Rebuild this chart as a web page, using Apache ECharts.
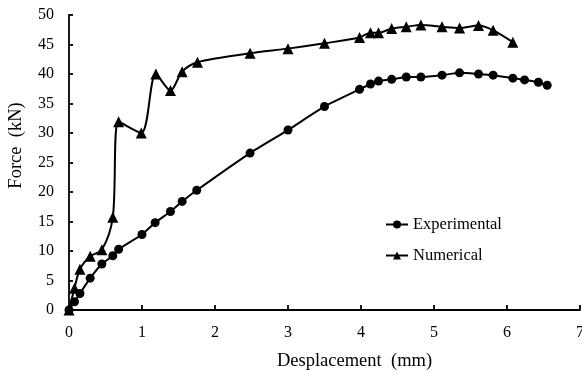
<!DOCTYPE html>
<html>
<head>
<meta charset="utf-8">
<script src="https://cdn.jsdelivr.net/npm/echarts@6/dist/echarts.min.js"></script>
<style>
    html, body { margin: 0; padding: 0; background: #fff; }
    #chart { width: 582px; height: 372px; }
</style>
</head>
<body>
<div id="chart"></div>
<script>
// displacement (mm) / force (kN)
const expX = [0, 0.075, 0.15, 0.29, 0.45, 0.6, 0.68, 1.0, 1.18, 1.39, 1.55, 1.75, 2.48, 3.0, 3.5, 3.98, 4.13, 4.24, 4.42, 4.62, 4.82, 5.11, 5.35, 5.61, 5.81, 6.08, 6.24, 6.43, 6.55];
const expY = [0, 1.4, 2.8, 5.4, 7.8, 9.2, 10.3, 12.8, 14.8, 16.7, 18.4, 20.3, 26.6, 30.5, 34.5, 37.4, 38.3, 38.8, 39.1, 39.5, 39.5, 39.8, 40.2, 40.0, 39.8, 39.3, 39.0, 38.6, 38.1];

const numX = [0, 0.075, 0.15, 0.29, 0.45, 0.6, 0.68, 0.99, 1.19, 1.39, 1.55, 1.76, 2.48, 3.0, 3.5, 3.98, 4.13, 4.24, 4.42, 4.62, 4.82, 5.11, 5.35, 5.61, 5.81, 6.08];
const numY = [0, 3.7, 6.9, 9.1, 10.2, 15.7, 31.9, 30.0, 40.0, 37.2, 40.4, 42.0, 43.5, 44.3, 45.2, 46.2, 47.0, 47.0, 47.7, 48.0, 48.3, 48.0, 47.8, 48.2, 47.4, 45.4];

const xTicks = [0, 1, 2, 3, 4, 5, 6, 7];
const yTicks = [0, 5, 10, 15, 20, 25, 30, 35, 40, 45, 50];

function pairs(xs, ys) {
    let out = [];
    for (let i = 0; i < xs.length; i++) {
        out.push([xs[i], ys[i]]);
    }
    return out;
}

const font = 'Liberation Serif';
var chart = echarts.init(document.getElementById('chart'));
chart.setOption({
    animation: false,
    textStyle: { fontFamily: font, color: '#000' },
    grid: {
        left: 69,
        right: 2,
        top: 15,
        bottom: 62,
        containLabel: false,
        outerBoundsMode: 'none'
    },
    legend: {
        orient: 'vertical',
        left: 380,
        top: 211,
        itemWidth: 22,
        itemHeight: 10,
        itemGap: 14,
        textStyle: { fontFamily: font, fontSize: 16.5, color: '#000' },
        data: ['Experimental', 'Numerical']
    },
    xAxis: {
        type: 'value',
        min: xTicks[0],
        max: xTicks[xTicks.length - 1],
        interval: 1,
        name: 'Desplacement  (mm)',
        nameLocation: 'middle',
        nameGap: 42,
        nameTextStyle: { fontFamily: font, fontSize: 18.5, color: '#000', padding: [0, 0, 0, 60] },
        axisLine: { lineStyle: { color: '#000', width: 1.8 } },
        axisTick: { inside: true, length: 5, lineStyle: { color: '#000', width: 1.8 } },
        axisLabel: { fontFamily: font, fontSize: 16, color: '#000', margin: 15 },
        splitLine: { show: false }
    },
    yAxis: {
        type: 'value',
        min: yTicks[0],
        max: yTicks[yTicks.length - 1],
        interval: 5,
        name: 'Force  (kN)',
        nameLocation: 'middle',
        nameGap: 43,
        nameTextStyle: { fontFamily: font, fontSize: 18.5, color: '#000', padding: [0, 0, 0, 34] },
        axisLine: { lineStyle: { color: '#000', width: 1.8 } },
        axisTick: { inside: true, length: 4, lineStyle: { color: '#000', width: 1.8 } },
        axisLabel: { fontFamily: font, fontSize: 16, color: '#000', margin: 15 },
        splitLine: { show: false }
    },
    series: [{
        name: 'Experimental',
        type: 'line',
        data: pairs(expX, expY),
        symbol: 'circle',
        symbolSize: 9,
        smooth: 0.15,
        itemStyle: { color: '#000' },
        lineStyle: { color: '#000', width: 2 }
    }, {
        name: 'Numerical',
        type: 'line',
        data: pairs(numX, numY),
        symbol: 'triangle',
        symbolSize: 11,
        smooth: 0.3,
        itemStyle: { color: '#000' },
        lineStyle: { color: '#000', width: 2 }
    }]
});
</script>
</body>
</html>
